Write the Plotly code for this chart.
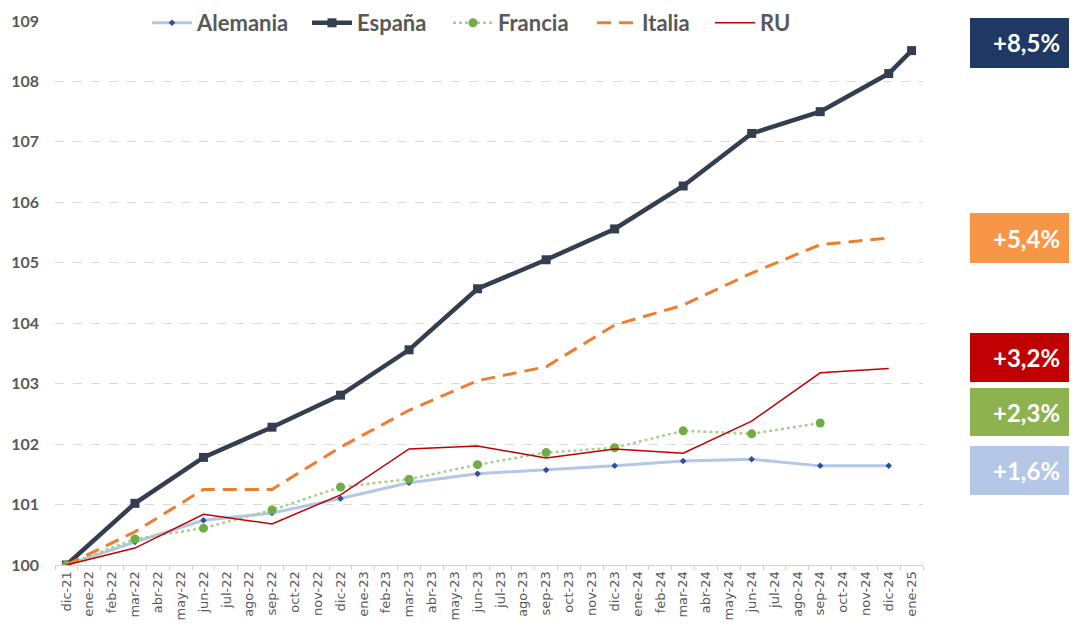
import plotly.graph_objects as go

months = ["dic-21",
          "ene-22", "feb-22", "mar-22", "abr-22", "may-22", "jun-22", "jul-22", "ago-22", "sep-22", "oct-22", "nov-22", "dic-22",
          "ene-23", "feb-23", "mar-23", "abr-23", "may-23", "jun-23", "jul-23", "ago-23", "sep-23", "oct-23", "nov-23", "dic-23",
          "ene-24", "feb-24", "mar-24", "abr-24", "may-24", "jun-24", "jul-24", "ago-24", "sep-24", "oct-24", "nov-24", "dic-24",
          "ene-25"]

quarters = ["dic-21", "mar-22", "jun-22", "sep-22", "dic-22", "mar-23", "jun-23",
            "sep-23", "dic-23", "mar-24", "jun-24", "sep-24", "dic-24"]
espana_x = quarters + ["ene-25"]
francia_x = quarters[:-1]

alemania = [100, 100.38, 100.74, 100.86, 101.10, 101.36, 101.51, 101.57, 101.64, 101.72, 101.75, 101.64, 101.64]
espana = [100, 101.02, 101.78, 102.28, 102.81, 103.56, 104.57, 105.05, 105.56, 106.27, 107.14, 107.50, 108.13, 108.51]
francia = [100, 100.43, 100.61, 100.91, 101.29, 101.42, 101.66, 101.86, 101.94, 102.22, 102.17, 102.35]
italia = [100, 100.55, 101.25, 101.25, 101.95, 102.56, 103.05, 103.28, 103.97, 104.30, 104.83, 105.30, 105.41]
ru = [100, 100.28, 100.84, 100.68, 101.16, 101.92, 101.97, 101.77, 101.92, 101.85, 102.38, 103.18, 103.25]

badge_texts = ["+8,5%", "+5,4%", "+3,2%", "+2,3%", "+1,6%"]
badge_colors = ["#203864", "#F79646", "#C00000", "#8FB250", "#B4C7E7"]

# page is shown with an 8px body margin, so the figure is 8px smaller than the window
OFF = 8
W, H = 1077 - OFF, 630 - OFF
ML, MT = 55 - OFF, 21 - OFF
MR = W - (923 - OFF)
MB = H - (565 - OFF)
PW, PH = W - ML - MR, H - MT - MB
FONT = "Lato"


def px_x(px):
    return (px - OFF - ML) / PW


def px_y(py):
    return (H - MB - (py - OFF)) / PH


fig = go.Figure()
fig.add_trace(go.Scatter(x=quarters, y=alemania, name="Alemania", mode="lines+markers",
                         line=dict(color="#B4C7E7", width=3),
                         marker=dict(symbol="diamond", size=5, color="#2F4F8F"),
                         legend="legend"))
fig.add_trace(go.Scatter(x=espana_x, y=espana, name="España", mode="lines+markers",
                         line=dict(color="#333F50", width=4.5),
                         marker=dict(symbol="square", size=9, color="#333F50"),
                         legend="legend2"))
fig.add_trace(go.Scatter(x=francia_x, y=francia, name="Francia", mode="lines+markers",
                         line=dict(color="#A9D18E", width=2.5, dash="dot"),
                         marker=dict(symbol="circle", size=9, color="#70AD47"),
                         legend="legend3"))
fig.add_trace(go.Scatter(x=quarters, y=italia, name="Italia", mode="lines",
                         line=dict(color="#ED7D31", width=3, dash="14px,8px"),
                         legend="legend4"))
fig.add_trace(go.Scatter(x=quarters, y=ru, name="RU", mode="lines",
                         line=dict(color="#C00000", width=1.5),
                         legend="legend5"))

# badges on the right
badge_boxes = [(18, 68), (213, 263), (333, 382), (388, 436), (446, 495)]
shapes = []
annotations = []
for (y0, y1), txt, col in zip(badge_boxes, badge_texts, badge_colors):
    shapes.append(dict(type="rect", xref="paper", yref="paper",
                       x0=px_x(970), x1=px_x(1085), y0=px_y(y1), y1=px_y(y0),
                       fillcolor=col, line=dict(width=0), layer="above"))
    annotations.append(dict(xref="paper", yref="paper", x=px_x(1027), y=px_y((y0 + y1) / 2),
                            text=txt, showarrow=False, xanchor="center", yanchor="middle",
                            font=dict(family=FONT, size=24, color="white", weight="bold")))

legend_text_starts = [197, 357, 498, 642, 760]
legend_common = dict(orientation="h", xref="container", yref="container",
                     xanchor="left", y=1 - (23 - OFF) / H, yanchor="middle",
                     bgcolor="rgba(0,0,0,0)",
                     font=dict(family=FONT, size=22, color="#595959", weight="bold"),
                     itemwidth=40)
legends = {}
for i, ts in enumerate(legend_text_starts):
    key = "legend" if i == 0 else f"legend{i + 1}"
    legends[key] = dict(legend_common, x=(ts - OFF - 50) / W)

fig.update_layout(
    width=W, height=H,
    margin=dict(l=ML, r=MR, t=MT, b=MB, autoexpand=False),
    paper_bgcolor="white", plot_bgcolor="white",
    font=dict(family=FONT, color="#595959"),
    showlegend=True,
    shapes=shapes,
    annotations=annotations,
    xaxis=dict(type="category", categoryorder="array", categoryarray=months,
               tickmode="array", tickvals=months, ticktext=months,
               range=[-0.5, len(months) - 0.5], tickangle=-90,
               tickfont=dict(family="DejaVu Sans", size=13, color="#595959"),
               showgrid=False, showline=True, linecolor="#D0D0D0", linewidth=1,
               tickson="boundaries", ticks="outside", ticklen=4, tickcolor="#D0D0D0",
               zeroline=False, fixedrange=True, automargin=False),
    yaxis=dict(range=[100, 109], dtick=1, tick0=100,
               tickfont=dict(family=FONT, size=16, color="#595959", weight="bold"),
               showgrid=True, gridcolor="#D9D9D9", griddash="dash", gridwidth=1,
               showline=False, zeroline=False, ticks="", ticklabelstandoff=15,
               fixedrange=True, automargin=False),
    **legends,
)

fig.write_html("out.html")
